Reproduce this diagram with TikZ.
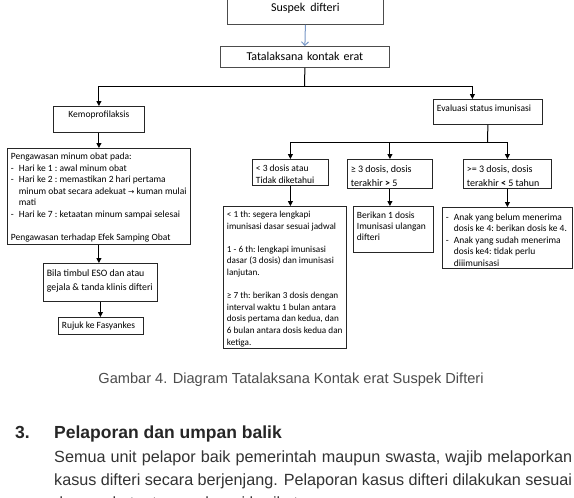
\documentclass[tikz,border=0pt]{standalone}
\usepackage{fontspec}
\setmainfont{Carlito}
\newfontfamily\arialfont{Liberation Sans}
\newfontfamily\symfont{DejaVu Sans}
\usetikzlibrary{arrows.meta}

\definecolor{arrowblue}{RGB}{118,150,198}
\newcommand{\dashitem}{\makebox[8pt][l]{-}}
\newcommand{\dashcont}{\hspace*{8pt}}

\tikzset{
  box/.style={draw=black!85, line width=0.8pt, rectangle, anchor=north west,
    align=left, inner xsep=3.5pt, inner ysep=3pt, font=\fontsize{9.5}{11.6}\selectfont,
    execute at begin node={\frenchspacing\spaceskip=0pt\xspaceskip=0pt\hyphenpenalty=10000}},
  bigbox/.style={box, font=\fontsize{12}{14}\selectfont, align=center},
  link/.style={line width=1pt, black},
  flow/.style={link, -{Triangle[length=5pt,width=5pt]}},
  blueflow/.style={line width=1pt, draw=arrowblue, -{Straight Barb[length=3.5pt,width=7pt]}},
  para/.style={anchor=base west, inner sep=0pt, text=black!80, font=\arialfont\fontsize{16.2}{23}\selectfont},
}

\begin{document}
\begin{tikzpicture}[x=1pt, y=-1pt]
    \useasboundingbox (0,0) rectangle (574,498);
    \clip (0,0) rectangle (574,498);

    % top of the chart
    \node[bigbox, draw=black!70, text width=149pt, text height=22pt, text depth=10pt] (suspek) at (227,-14) {Suspek difteri};
    \node[bigbox, draw=black!70, text width=162pt, text height=11.5pt, text depth=3.5pt] (tata) at (220,46) {Tatalaksana kontak erat};
    \draw[blueflow] (suspek.south) -- (tata.north);
    \coordinate (tatasplit) at (304.5,86);

    % left branch
    \node[box, align=center, text width=84pt, text height=8pt, text depth=12pt] (kemo) at (53,106) {Kemoprofilaksis};
    \node[box, text width=176pt, text height=8pt, text depth=82pt] (peng) at (7,148) {Pengawasan minum obat pada:\\
      \dashitem Hari ke 1 : awal minum obat\\
      \dashitem Hari ke 2 : memastikan 2 hari pertama\\
      \dashcont minum obat secara adekuat {\symfont\fontsize{7.5}{7.5}\selectfont →} kuman mulai\\
      \dashcont mati\\
      \dashitem Hari ke 7 : ketaatan minum sampai selesai\\
      ~\\
      Pengawasan terhadap Efek Samping Obat};
    \node[box, font=\fontsize{9.8}{14}\selectfont, text width=107pt, text height=10pt, text depth=22pt] (bila) at (43,263) {Bila timbul ESO dan atau\\\mbox{gejala \& tanda klinis difteri}};
    \node[box, text width=78pt, text height=8.5pt, text depth=2.5pt] (rujuk) at (58,317) {Rujuk ke Fasyankes};

    % right branch
    \node[box, text width=102pt, text height=9pt, text depth=10pt] (eval) at (433,99) {Evaluasi status imunisasi};
    \coordinate (evalsplit) at (487.5,142);
    \node[box, font=\fontsize{9.5}{12}\selectfont, text width=69pt, text height=9pt, text depth=11pt] (lt3) at (252,159) {< 3 dosis atau\\Tidak diketahui};
    \node[box, font=\fontsize{10}{14}\selectfont, text width=78pt, text height=10.5pt, text depth=12.5pt] (ge3) at (347,159) {≥ 3 dosis, dosis\\terakhir \textbf{>} 5};
    \node[box, font=\fontsize{10}{14}\selectfont, text width=81pt, text height=10.5pt, text depth=12.5pt] (ge3b) at (463,159) {>= 3 dosis, dosis\\terakhir \textbf{<} 5 tahun};
    \node[box, font=\fontsize{9.2}{11.6}\selectfont, text width=116pt, text height=8pt, text depth=128pt] (jadwal) at (223,206) {< 1 th: segera lengkapi\\
      imunisasi dasar sesuai jadwal\\
      ~\\
      1 - 6 th: lengkapi imunisasi\\
      dasar (3 dosis) dan imunisasi\\
      lanjutan.\\
      ~\\
      ≥ 7 th: berikan 3 dosis dengan\\
      interval waktu 1 bulan antara\\
      dosis pertama dan kedua, dan\\
      \mbox{6 bulan antara dosis kedua dan}\\
      ketiga.};
    \node[box, font=\fontsize{9.5}{11}\selectfont, text width=73pt, text height=9pt, text depth=31pt] (berikan) at (353,206) {Berikan 1 dosis\\Imunisasi ulangan\\difteri};
    \node[box, font=\fontsize{9.5}{11.5}\selectfont, text width=123pt, text height=10pt, text depth=45pt] (anak) at (442,207) {\dashitem Anak yang belum menerima\\
      \dashcont dosis ke 4: berikan dosis ke 4.\\
      \dashitem Anak yang sudah menerima\\
      \dashcont dosis ke4: tidak perlu\\
      \dashcont diiimunisasi};

    % connectors
    \draw[link] (tata.south) -- (tatasplit);
    \draw[flow] (tatasplit) -| (kemo.north);
    \draw[flow] (tatasplit) -| ([xshift=-15.5pt]eval.north);
    \draw[flow] (kemo.south) -- (peng.north);
    \draw[flow] (peng.south) -- (peng.south |- bila.north);
    \draw[flow] (bila.south) -- (bila.south |- rujuk.north);
    \draw[link] (eval.south) -- (evalsplit);
    \draw[flow] (evalsplit) -| (lt3.north);
    \draw[flow] (evalsplit) -| (ge3.north);
    \draw[flow] (evalsplit) -| (ge3b.north);
    \draw[flow] (lt3.south) -- (lt3.south |- jadwal.north);
    \draw[flow] (ge3.south) -- (ge3.south |- berikan.north);
    \draw[flow] (ge3b.south) -- (ge3b.south |- anak.north);

    % page text below the chart
    \node[anchor=base, inner sep=0pt, text=black!70, font=\arialfont\fontsize{14.6}{17}\selectfont] (caption) at (291,383) {Gambar 4. Diagram Tatalaksana Kontak erat Suspek Difteri};
    \node[anchor=base west, inner sep=0pt, text=black!85, font=\arialfont\bfseries\fontsize{17.5}{20}\selectfont] (secnum) at (15,438) {3.};
    \node[anchor=base west, inner sep=0pt, text=black!85, font=\arialfont\bfseries\fontsize{17.5}{20}\selectfont] (sectitle) at (54,438) {Pelaporan dan umpan balik};
    \node[para] (line1) at (54,462) {\makebox[518pt][s]{Semua unit pelapor baik pemerintah maupun swasta, wajib melaporkan}};
    \node[para] (line2) at (54,485) {\makebox[518pt][s]{kasus difteri secara berjenjang. Pelaporan kasus difteri dilakukan sesuai}};
    \node[para] (line3) at (54,508) {dengan ketentuan sebagai berikut:};
\end{tikzpicture}
\end{document}
